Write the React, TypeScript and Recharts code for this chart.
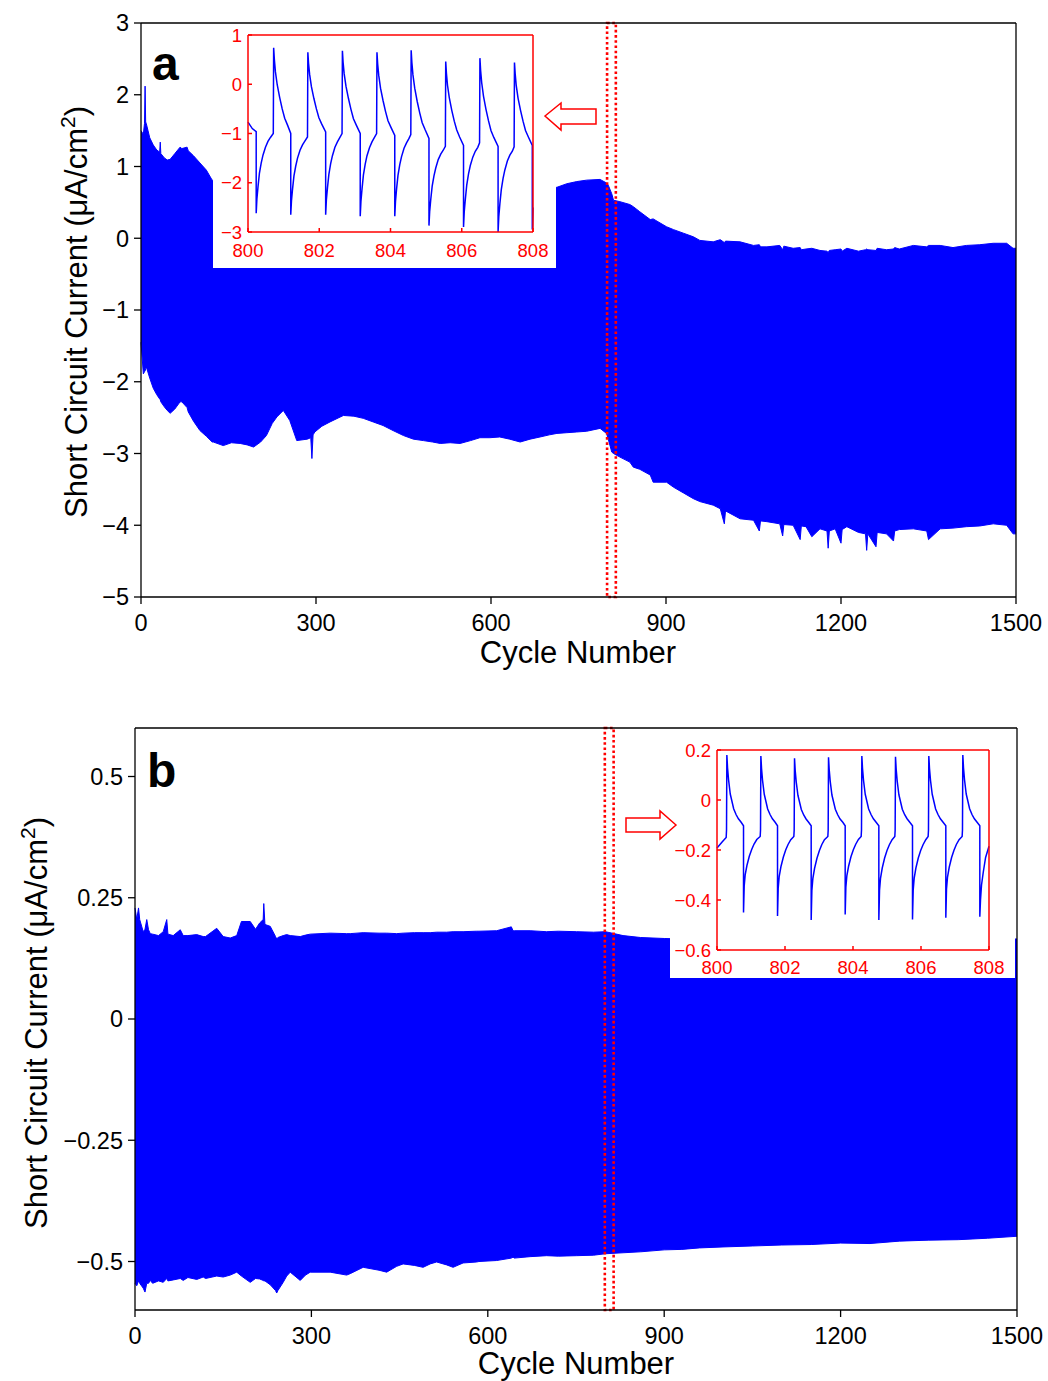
import React from "react";
import {
  ComposedChart,
  LineChart,
  Area,
  Line,
  XAxis,
  YAxis,
  ReferenceArea,
} from "recharts";

// ─── Style constants ─────────────────────────────────────────────────────────

const FONT = '"Liberation Sans", Arial, Helvetica, sans-serif';
const BLUE = "#0000ff";
const RED = "#ff0000";
const BLACK = "#000000";

// ─── Panel a: envelope of the short circuit current ─────────────────────────

const cyclesA = [
  0, 4, 6, 7, 8, 9, 15, 21, 27, 32,
  33, 34, 40, 45, 50, 58, 67, 70, 79, 81,
  90, 101, 112, 122, 124, 141, 155, 170, 182, 193,
  205, 215, 225, 233, 244, 255, 267, 285, 291, 293,
  295, 298, 310, 324, 347, 365, 381, 398, 415, 432,
  450, 467, 484, 500, 513, 530, 547, 565, 581, 598,
  615, 632, 650, 667, 684, 700, 713, 730, 747, 764,
  787, 798, 801, 807, 810, 821, 838, 844, 855, 873,
  878, 901, 913, 930, 947, 958, 981, 993, 1000, 1002,
  1027, 1050, 1060, 1062, 1073, 1095, 1100, 1102, 1118, 1130,
  1132, 1140, 1150, 1164, 1176, 1178, 1180, 1190, 1200, 1202,
  1210, 1230, 1242, 1244, 1246, 1260, 1262, 1278, 1290, 1292,
  1300, 1324, 1347, 1350, 1370, 1392, 1415, 1438, 1461, 1484,
  1495, 1500,
];

const upperA = [
  1.5, 1.45, 1.6, 2.12, 1.62, 1.6, 1.4, 1.3, 1.23, 1.2,
  1.34, 1.18, 1.12, 1.09, 1.1, 1.18, 1.27, 1.25, 1.27, 1.22,
  1.15, 1.05, 0.95, 0.81, 0.8, 0.8, 0.79, 0.79, 0.78, 0.78,
  0.77, 0.77, 0.77, 0.76, 0.76, 0.76, 0.75, 0.75, 0.75, 0.75,
  0.75, 0.75, 0.74, 0.74, 0.74, 0.73, 0.73, 0.73, 0.73, 0.72,
  0.72, 0.72, 0.72, 0.72, 0.71, 0.71, 0.71, 0.71, 0.71, 0.71,
  0.7, 0.7, 0.7, 0.7, 0.7, 0.7, 0.71, 0.76, 0.79, 0.81,
  0.82, 0.77, 0.74, 0.62, 0.53, 0.51, 0.47, 0.44, 0.37, 0.26,
  0.27, 0.16, 0.12, 0.07, 0.02, -0.03, -0.05, -0.02, -0.06, -0.04,
  -0.05, -0.1, -0.09, -0.12, -0.12, -0.1, -0.16, -0.11, -0.14, -0.13,
  -0.16, -0.15, -0.14, -0.17, -0.18, -0.2, -0.17, -0.16, -0.15, -0.18,
  -0.14, -0.18, -0.16, -0.15, -0.16, -0.17, -0.14, -0.16, -0.15, -0.13,
  -0.15, -0.1, -0.12, -0.1, -0.1, -0.13, -0.1, -0.09, -0.07, -0.07,
  -0.14, -0.14,
];

const lowerA = [
  -1.45, -1.89, -1.86, -1.85, -1.82, -1.79, -1.95, -2.09, -2.18, -2.24,
  -2.25, -2.28, -2.35, -2.4, -2.44, -2.38, -2.28, -2.28, -2.36, -2.42,
  -2.55, -2.68, -2.76, -2.84, -2.84, -2.89, -2.85, -2.86, -2.88, -2.91,
  -2.84, -2.75, -2.58, -2.49, -2.4, -2.54, -2.82, -2.8, -2.78, -3.07,
  -2.74, -2.7, -2.62, -2.56, -2.47, -2.48, -2.51, -2.56, -2.61, -2.68,
  -2.75, -2.8, -2.82, -2.84, -2.86, -2.85, -2.86, -2.82, -2.78, -2.78,
  -2.77, -2.8, -2.84, -2.8, -2.77, -2.74, -2.72, -2.71, -2.7, -2.69,
  -2.65, -2.72, -2.8, -2.98, -3.0, -3.05, -3.12, -3.19, -3.22, -3.3,
  -3.4, -3.4, -3.47, -3.55, -3.63, -3.67, -3.72, -3.77, -3.98, -3.8,
  -3.91, -3.93, -4.08, -3.94, -3.95, -3.98, -4.15, -3.99, -4.0, -4.2,
  -4.01, -4.02, -4.16, -4.05, -4.08, -4.32, -4.08, -4.05, -4.25, -4.06,
  -4.02, -4.1, -4.12, -4.35, -4.12, -4.3, -4.1, -4.12, -4.22, -4.08,
  -4.06, -4.05, -4.08, -4.2, -4.05, -4.04, -4.02, -4.01, -3.98, -4.0,
  -4.12, -4.12,
];

// ─── Panel b: envelope of the short circuit current ─────────────────────────

const cyclesB = [
  0, 3, 6, 8, 14, 17, 20, 23, 26, 30,
  40, 48, 54, 56, 65, 77, 82, 90, 105, 116,
  120, 139, 150, 162, 173, 181, 196, 205, 212, 218,
  219, 221, 230, 239, 241, 243, 252, 258, 264, 281,
  290, 298, 332, 360, 366, 388, 415, 428, 445, 456,
  475, 490, 502, 513, 530, 541, 558, 581, 585, 615,
  640, 643, 645, 672, 700, 720, 751, 780, 800, 830,
  860, 900, 930, 960, 1000, 1050, 1100, 1150, 1200, 1250,
  1300, 1350, 1400, 1450, 1500,
];

const upperB = [
  0.229, 0.205, 0.229, 0.205, 0.18, 0.185, 0.205, 0.184, 0.176, 0.175,
  0.172, 0.18, 0.205, 0.175, 0.172, 0.184, 0.172, 0.172, 0.174, 0.17,
  0.17, 0.187, 0.17, 0.167, 0.172, 0.201, 0.201, 0.185, 0.198, 0.205,
  0.238, 0.195, 0.191, 0.17, 0.165, 0.168, 0.172, 0.174, 0.172, 0.17,
  0.173, 0.175, 0.177, 0.176, 0.176, 0.178, 0.177, 0.177, 0.176, 0.177,
  0.178, 0.178, 0.178, 0.179, 0.179, 0.18, 0.18, 0.181, 0.181, 0.182,
  0.19, 0.182, 0.182, 0.182, 0.18, 0.181, 0.18, 0.179, 0.18, 0.172,
  0.168, 0.166, 0.165, 0.165, 0.165, 0.165, 0.165, 0.165, 0.165, 0.165,
  0.165, 0.165, 0.165, 0.165, 0.165,
];

const lowerB = [
  -0.545, -0.55, -0.54, -0.545, -0.555, -0.563, -0.545, -0.545, -0.539, -0.545,
  -0.54, -0.543, -0.535, -0.54, -0.538, -0.535, -0.539, -0.533, -0.537, -0.532,
  -0.535, -0.53, -0.532, -0.528, -0.522, -0.53, -0.543, -0.535, -0.536, -0.539,
  -0.54, -0.54, -0.548, -0.56, -0.565, -0.56, -0.543, -0.53, -0.522, -0.539,
  -0.528, -0.522, -0.522, -0.528, -0.525, -0.512, -0.518, -0.522, -0.51, -0.505,
  -0.508, -0.512, -0.505, -0.501, -0.507, -0.512, -0.503, -0.501, -0.5, -0.498,
  -0.493, -0.491, -0.493, -0.49, -0.488, -0.489, -0.488, -0.487, -0.484, -0.482,
  -0.48, -0.476, -0.475, -0.472, -0.47, -0.468, -0.466, -0.465, -0.462, -0.463,
  -0.458, -0.456, -0.455, -0.452, -0.448,
];

// ─── Insets: cycles 800–808 in detail ([cycle, current]) ────────────────────

const insetA: [number, number][] = [
  [800.0, -0.77], [800.12, -0.9], [800.23, -0.96],
  [800.23, -2.62], [800.25, -2.33], [800.28, -2.09], [800.32, -1.81], [800.37, -1.6],
  [800.42, -1.44], [800.49, -1.28], [800.56, -1.16], [800.63, -1.08], [800.71, -1.0],
  [800.72, 0.74], [800.74, 0.5], [800.77, 0.25], [800.82, -0.01], [800.89, -0.27],
  [800.96, -0.5], [801.03, -0.69], [801.11, -0.83], [801.2, -1.0],
  [801.2, -2.65], [801.22, -2.37], [801.25, -2.13], [801.29, -1.86], [801.34, -1.66],
  [801.39, -1.5], [801.46, -1.34], [801.53, -1.23], [801.6, -1.15], [801.67, -1.07],
  [801.68, 0.65], [801.7, 0.42], [801.73, 0.2], [801.78, -0.05], [801.85, -0.29],
  [801.92, -0.5], [801.99, -0.68], [802.07, -0.81], [802.18, -0.97],
  [802.18, -2.65], [802.2, -2.35], [802.23, -2.11], [802.27, -1.83], [802.32, -1.61],
  [802.37, -1.45], [802.44, -1.28], [802.51, -1.17], [802.58, -1.08], [802.64, -1.0],
  [802.65, 0.68], [802.67, 0.44], [802.7, 0.21], [802.75, -0.04], [802.82, -0.29],
  [802.89, -0.51], [802.96, -0.7], [803.04, -0.83], [803.15, -1.0],
  [803.15, -2.68], [803.17, -2.38], [803.2, -2.13], [803.24, -1.84], [803.29, -1.62],
  [803.34, -1.45], [803.41, -1.29], [803.48, -1.17], [803.55, -1.08], [803.61, -1.0],
  [803.62, 0.65], [803.64, 0.41], [803.67, 0.18], [803.72, -0.08], [803.79, -0.33],
  [803.86, -0.55], [803.93, -0.74], [804.01, -0.87], [804.12, -1.04],
  [804.12, -2.68], [804.14, -2.38], [804.17, -2.13], [804.21, -1.85], [804.26, -1.63],
  [804.31, -1.47], [804.38, -1.3], [804.45, -1.19], [804.52, -1.1], [804.57, -1.02],
  [804.58, 0.69], [804.6, 0.44], [804.63, 0.19], [804.68, -0.08], [804.75, -0.35],
  [804.82, -0.58], [804.89, -0.78], [804.97, -0.92], [805.08, -1.1],
  [805.08, -2.87], [805.1, -2.58], [805.13, -2.34], [805.17, -2.07], [805.22, -1.86],
  [805.27, -1.7], [805.34, -1.53], [805.41, -1.42], [805.48, -1.34], [805.54, -1.26],
  [805.55, 0.46], [805.57, 0.22], [805.6, -0.02], [805.65, -0.27], [805.72, -0.53],
  [805.79, -0.75], [805.86, -0.93], [805.94, -1.07], [806.05, -1.24],
  [806.05, -2.9], [806.07, -2.59], [806.1, -2.34], [806.14, -2.05], [806.19, -1.82],
  [806.24, -1.65], [806.31, -1.48], [806.38, -1.36], [806.45, -1.28], [806.5, -1.19],
  [806.51, 0.53], [806.53, 0.28], [806.56, 0.03], [806.61, -0.24], [806.68, -0.51],
  [806.75, -0.74], [806.82, -0.94], [806.9, -1.08], [807.02, -1.26],
  [807.02, -3.0], [807.04, -2.69], [807.07, -2.43], [807.11, -2.14], [807.16, -1.91],
  [807.21, -1.74], [807.28, -1.56], [807.35, -1.44], [807.42, -1.36], [807.47, -1.27],
  [807.48, 0.44], [807.5, 0.21], [807.53, -0.03], [807.58, -0.28], [807.65, -0.53],
  [807.72, -0.75], [807.79, -0.94], [807.87, -1.07], [807.98, -1.24],
  [807.98, -2.95], [808.0, -2.5],
];

const insetB: [number, number][] = [
  [800.0, -0.192], [800.15, -0.168], [800.27, -0.15], [800.28, -0.12],
  [800.29, 0.18], [800.31, 0.129], [800.34, 0.081], [800.39, 0.024], [800.49, -0.035],
  [800.56, -0.058], [800.63, -0.075], [800.71, -0.089], [800.78, -0.103],
  [800.78, -0.45], [800.8, -0.344], [800.83, -0.298], [800.88, -0.262], [800.95, -0.225],
  [801.02, -0.198], [801.09, -0.176], [801.17, -0.158], [801.27, -0.146], [801.28, -0.12],
  [801.29, 0.176], [801.31, 0.126], [801.34, 0.078], [801.39, 0.023], [801.49, -0.036],
  [801.56, -0.058], [801.63, -0.075], [801.71, -0.089], [801.78, -0.103],
  [801.78, -0.464], [801.8, -0.353], [801.83, -0.305], [801.88, -0.267], [801.95, -0.229],
  [802.02, -0.2], [802.09, -0.178], [802.17, -0.159], [802.26, -0.146], [802.27, -0.12],
  [802.28, 0.167], [802.3, 0.118], [802.33, 0.073], [802.38, 0.019], [802.48, -0.038],
  [802.55, -0.06], [802.62, -0.076], [802.7, -0.09], [802.77, -0.103],
  [802.77, -0.48], [802.79, -0.363], [802.82, -0.313], [802.87, -0.273], [802.94, -0.233],
  [803.01, -0.203], [803.08, -0.179], [803.16, -0.159], [803.26, -0.146], [803.27, -0.12],
  [803.28, 0.171], [803.3, 0.122], [803.33, 0.075], [803.38, 0.02], [803.48, -0.037],
  [803.55, -0.059], [803.62, -0.076], [803.7, -0.089], [803.77, -0.103],
  [803.77, -0.458], [803.79, -0.349], [803.82, -0.302], [803.87, -0.265], [803.94, -0.227],
  [804.01, -0.199], [804.08, -0.177], [804.16, -0.158], [804.24, -0.146], [804.25, -0.12],
  [804.26, 0.176], [804.28, 0.126], [804.31, 0.078], [804.36, 0.023], [804.46, -0.036],
  [804.53, -0.058], [804.6, -0.075], [804.68, -0.089], [804.76, -0.103],
  [804.76, -0.48], [804.78, -0.362], [804.81, -0.312], [804.86, -0.272], [804.93, -0.232],
  [805.0, -0.202], [805.07, -0.179], [805.15, -0.159], [805.23, -0.146], [805.24, -0.12],
  [805.25, 0.173], [805.27, 0.123], [805.3, 0.076], [805.35, 0.021], [805.45, -0.037],
  [805.52, -0.059], [805.59, -0.075], [805.67, -0.089], [805.75, -0.103],
  [805.75, -0.478], [805.77, -0.362], [805.8, -0.312], [805.85, -0.272], [805.92, -0.232],
  [805.99, -0.202], [806.06, -0.179], [806.14, -0.159], [806.21, -0.146], [806.22, -0.12],
  [806.23, 0.176], [806.25, 0.126], [806.28, 0.078], [806.33, 0.023], [806.43, -0.036],
  [806.5, -0.058], [806.57, -0.075], [806.65, -0.089], [806.73, -0.103],
  [806.73, -0.471], [806.75, -0.357], [806.78, -0.308], [806.83, -0.269], [806.9, -0.23],
  [806.97, -0.201], [807.04, -0.178], [807.12, -0.159], [807.21, -0.146], [807.22, -0.12],
  [807.23, 0.18], [807.25, 0.129], [807.28, 0.081], [807.33, 0.024], [807.43, -0.035],
  [807.5, -0.058], [807.57, -0.075], [807.65, -0.089], [807.73, -0.103],
  [807.73, -0.467], [807.75, -0.4], [807.78, -0.34], [807.83, -0.29], [807.9, -0.23],
  [808.0, -0.185],
];

// ─── Ticks ───────────────────────────────────────────────────────────────────

const cycleTicks = [0, 300, 600, 900, 1200, 1500];
const currentTicksA = [-5, -4, -3, -2, -1, 0, 1, 2, 3];
const currentTicksB = [-0.5, -0.25, 0, 0.25, 0.5];
const insetCycleTicks = [800, 802, 804, 806, 808];
const insetTicksA = [-3, -2, -1, 0, 1];
const insetTicksB = [-0.6, -0.4, -0.2, 0, 0.2];

// ─── Helpers ─────────────────────────────────────────────────────────────────

function fmt(v: number): string {
  return v < 0 ? `\u2212${-v}` : `${v}`;
}

const mainTick = { fontSize: 23.5, fill: BLACK, fontFamily: FONT };
const insetTick = { fontSize: 18.5, fill: RED, fontFamily: FONT };
const blackLine = { stroke: BLACK, strokeWidth: 1.3 };
const redLine = { stroke: RED, strokeWidth: 1.5 };

function YTitle({ tx, ty }: { tx: number; ty: number }) {
  return (
    <text
      x={tx}
      y={ty}
      transform={`rotate(-90 ${tx} ${ty})`}
      textAnchor="middle"
      fontFamily={FONT}
      fontSize={31}
      fill={BLACK}
    >
      Short Circuit Current (μA/cm
      <tspan dy={-12} fontSize={21}>
        2
      </tspan>
      <tspan dy={12}>)</tspan>
    </text>
  );
}

function XTitle({ tx, ty }: { tx: number; ty: number }) {
  return (
    <text x={tx} y={ty} textAnchor="middle" fontFamily={FONT} fontSize={31} fill={BLACK}>
      Cycle Number
    </text>
  );
}

function Letter({ tx, ty, letter }: { tx: number; ty: number; letter: string }) {
  return (
    <text x={tx} y={ty} fontFamily={FONT} fontSize={48} fontWeight="bold" fill={BLACK}>
      {letter}
    </text>
  );
}

// ─── Main panel ──────────────────────────────────────────────────────────────

function MainPanel({
  cycles,
  upper,
  lower,
  yDomain,
  yTicks,
  height,
  margin,
  letter,
  letterPos,
  xTitlePos,
  yTitlePos,
}: {
  cycles: number[];
  upper: number[];
  lower: number[];
  yDomain: [number, number];
  yTicks: number[];
  height: number;
  margin: { top: number; right: number; bottom: number; left: number };
  letter: string;
  letterPos: [number, number];
  xTitlePos: [number, number];
  yTitlePos: [number, number];
}) {
  const data = cycles.map((c, i) => ({ cycle: c, band: [lower[i], upper[i]] }));

  return (
    <ComposedChart width={1048} height={height} data={data} margin={margin}>
      <XAxis
        xAxisId="bottom"
        dataKey="cycle"
        type="number"
        domain={[0, 1500]}
        ticks={cycleTicks}
        interval={0}
        tick={mainTick}
        tickSize={7}
        tickMargin={10}
        axisLine={blackLine}
        tickLine={blackLine}
        height={40}
        label={{ content: () => <XTitle tx={xTitlePos[0]} ty={xTitlePos[1]} /> }}
      />
      <XAxis
        xAxisId="top"
        orientation="top"
        type="number"
        domain={[0, 1500]}
        ticks={cycleTicks}
        interval={0}
        tick={false}
        tickSize={7}
        axisLine={blackLine}
        tickLine={blackLine}
        height={1}
        label={{
          content: () => <Letter tx={letterPos[0]} ty={letterPos[1]} letter={letter} />,
        }}
      />
      <YAxis
        yAxisId="left"
        type="number"
        domain={yDomain}
        ticks={yTicks}
        interval={0}
        tickFormatter={fmt}
        tick={mainTick}
        tickSize={7}
        tickMargin={5}
        axisLine={blackLine}
        tickLine={blackLine}
        width={60}
        allowDataOverflow
        label={{ content: () => <YTitle tx={yTitlePos[0]} ty={yTitlePos[1]} /> }}
      />
      <YAxis
        yAxisId="right"
        orientation="right"
        type="number"
        domain={yDomain}
        ticks={yTicks}
        interval={0}
        tick={false}
        tickSize={7}
        axisLine={blackLine}
        tickLine={blackLine}
        width={1}
      />
      <Area
        xAxisId="bottom"
        yAxisId="left"
        type="linear"
        dataKey="band"
        stroke={BLUE}
        strokeWidth={1}
        fill={BLUE}
        fillOpacity={1}
        isAnimationActive={false}
      />
      <ReferenceArea
        xAxisId="bottom"
        yAxisId="left"
        x1={799}
        x2={814}
        y1={yDomain[0]}
        y2={yDomain[1]}
        fill="none"
        stroke={RED}
        strokeWidth={2.6}
        strokeDasharray="2.6 2.6"
      />
    </ComposedChart>
  );
}

// ─── Inset ───────────────────────────────────────────────────────────────────

function Inset({
  points,
  yDomain,
  yTicks,
  width,
  height,
  margin,
  yAxisWidth,
  xTickMargin,
}: {
  points: [number, number][];
  yDomain: [number, number];
  yTicks: number[];
  width: number;
  height: number;
  margin: { top: number; right: number; bottom: number; left: number };
  yAxisWidth: number;
  xTickMargin: number;
}) {
  const data = points.map(([t, v]) => ({ t, v }));
  return (
    <LineChart width={width} height={height} data={data} margin={margin}>
      <XAxis
        xAxisId="bottom"
        dataKey="t"
        type="number"
        domain={[800, 808]}
        ticks={insetCycleTicks}
        interval={0}
        tick={insetTick}
        tickSize={-4}
        tickMargin={xTickMargin}
        axisLine={redLine}
        tickLine={redLine}
        height={26}
      />
      <XAxis
        xAxisId="top"
        orientation="top"
        type="number"
        domain={[800, 808]}
        ticks={insetCycleTicks}
        interval={0}
        tick={false}
        tickSize={-4}
        axisLine={redLine}
        tickLine={redLine}
        height={1}
      />
      <YAxis
        yAxisId="left"
        type="number"
        domain={yDomain}
        ticks={yTicks}
        interval={0}
        tickFormatter={fmt}
        tick={insetTick}
        tickSize={-4}
        tickMargin={10}
        axisLine={redLine}
        tickLine={redLine}
        width={yAxisWidth}
        allowDataOverflow
      />
      <YAxis
        yAxisId="right"
        orientation="right"
        type="number"
        domain={yDomain}
        ticks={yTicks}
        interval={0}
        tick={false}
        tickSize={-4}
        axisLine={redLine}
        tickLine={redLine}
        width={1}
      />
      <Line
        xAxisId="bottom"
        yAxisId="left"
        type="linear"
        dataKey="v"
        stroke={BLUE}
        strokeWidth={1.5}
        dot={false}
        isAnimationActive={false}
      />
    </LineChart>
  );
}

// ─── App ─────────────────────────────────────────────────────────────────────

export default function App() {
  return (
    <div
      style={{
        position: "absolute",
        left: 0,
        top: 0,
        width: 1048,
        height: 1381,
        background: "#fff",
        overflow: "hidden",
      }}
    >
      {/* panel a */}
      <div style={{ position: "absolute", left: 0, top: 0 }}>
        <MainPanel
          cycles={cyclesA}
          upper={upperA}
          lower={lowerA}
          yDomain={[-5, 3]}
          yTicks={currentTicksA}
          height={690}
          margin={{ top: 22, right: 31, bottom: 53, left: 81 }}
          letter="a"
          letterPos={[152, 80]}
          xTitlePos={[578, 663]}
          yTitlePos={[87, 312]}
        />
      </div>
      <div
        style={{
          position: "absolute",
          left: 213,
          top: 24,
          width: 343,
          height: 244,
          background: "#fff",
        }}
      >
        <Inset
          points={insetA}
          yDomain={[-3, 1]}
          yTicks={insetTicksA}
          width={343}
          height={244}
          margin={{ top: 10, right: 22, bottom: 10, left: 5 }}
          yAxisWidth={30}
          xTickMargin={16}
        />
      </div>

      {/* panel b */}
      <div style={{ position: "absolute", left: 0, top: 690 }}>
        <MainPanel
          cycles={cyclesB}
          upper={upperB}
          lower={lowerB}
          yDomain={[-0.6, 0.6]}
          yTicks={currentTicksB}
          height={691}
          margin={{ top: 37, right: 30, bottom: 31, left: 75 }}
          letter="b"
          letterPos={[147, 97]}
          xTitlePos={[576, 684]}
          yTitlePos={[47, 333]}
        />
      </div>
      <div
        style={{
          position: "absolute",
          left: 670,
          top: 738,
          width: 345,
          height: 240,
          background: "#fff",
        }}
      >
        <Inset
          points={insetB}
          yDomain={[-0.6, 0.2]}
          yTicks={insetTicksB}
          width={345}
          height={240}
          margin={{ top: 11, right: 25, bottom: 2, left: 3 }}
          yAxisWidth={44}
          xTickMargin={15}
        />
      </div>

      {/* hollow arrows pointing at the insets */}
      <svg
        width={1048}
        height={1381}
        style={{ position: "absolute", left: 0, top: 0, pointerEvents: "none" }}
      >
        <polygon
          points="545,116 561,103 561,109 596,109 596,124 561,124 561,130"
          fill="#fff"
          stroke={RED}
          strokeWidth={1.5}
        />
        <polygon
          points="676,825 660,811 660,818 626,818 626,832 660,832 660,839"
          fill="#fff"
          stroke={RED}
          strokeWidth={1.5}
        />
      </svg>
    </div>
  );
}
